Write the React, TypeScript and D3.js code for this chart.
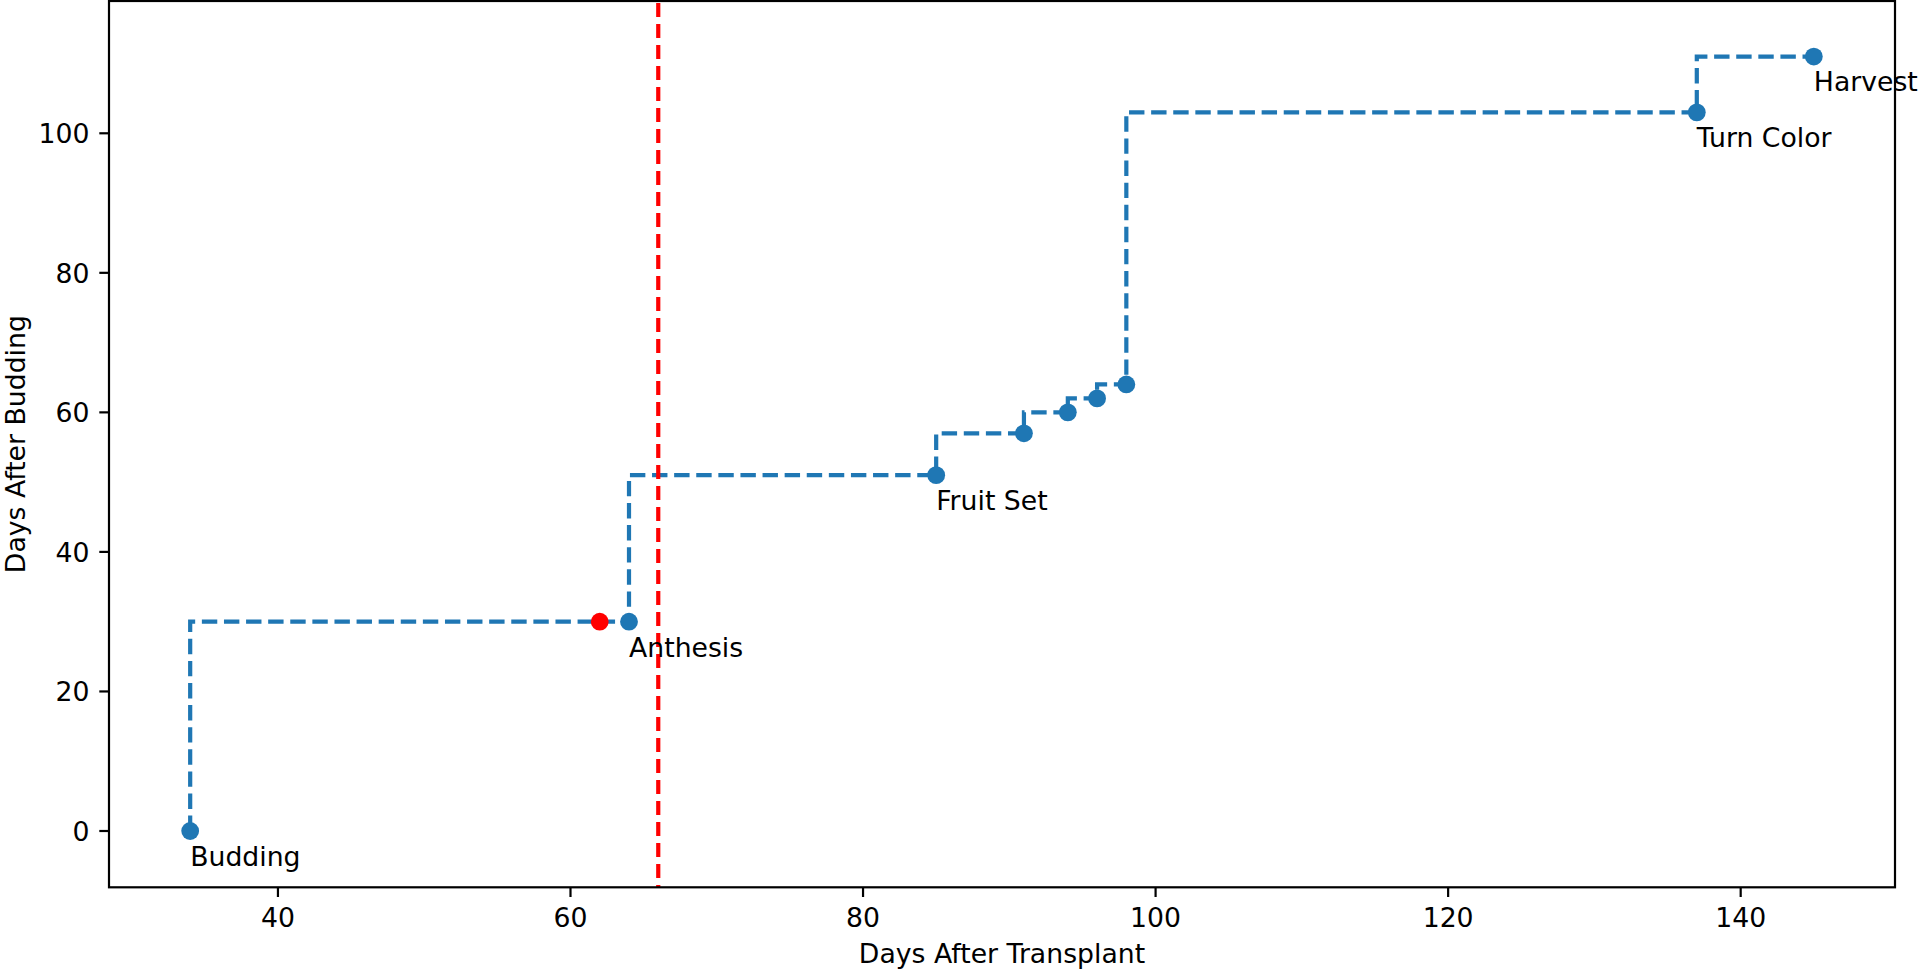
import React from "react";
import * as d3 from "d3";

const stageDays = [34, 64, 85, 91, 94, 96, 98, 137, 145];
const stageValues = [0, 30, 51, 57, 60, 62, 64, 103, 111];
const labelNames = ["Budding", "Anthesis", "Fruit Set", "Turn Color", "Harvest"];
const labelDays = [34, 64, 85, 137, 145];
const labelValues = [0, 30, 51, 103, 111];
const redPointDay = [62];
const redPointValue = [30];
const markerLineDay = 66;
const xTicks = [40, 60, 80, 100, 120, 140];
const yTicks = [0, 20, 40, 60, 80, 100];

const W = 1920;
const H = 969;
const L = 109, R = 1895, T = 1, B = 887.3;
const FONT = "DejaVu Sans";
const FS = 26.7;
const BLUE = "#1f77b4";

export default function App() {
  const x = d3.scaleLinear().domain([28.45, 150.55]).range([L, R]);
  const y = d3.scaleLinear().domain([-8.07, 118.96]).range([B, T]);
  const pts: [number, number][] = stageDays.map((d, i) => [d, stageValues[i]]);
  const line = d3
    .line<[number, number]>()
    .x((d) => x(d[0]))
    .y((d) => y(d[1]))
    .curve(d3.curveStepBefore);
  const lw = 4.2;
  return (
    <svg
      width={W}
      height={H}
      style={{ position: "absolute", left: 0, top: 0, background: "#fff" }}
      fontFamily={FONT}
    >
      <rect x={0} y={0} width={W} height={H} fill="#fff" />
      <path
        d={line(pts) || ""}
        fill="none"
        stroke={BLUE}
        strokeWidth={lw}
        strokeDasharray="15.4 6.7"
      />
      <line
        x1={x(markerLineDay)}
        x2={x(markerLineDay)}
        y1={T + 2}
        y2={B}
        stroke="#ff0000"
        strokeWidth={lw}
        strokeDasharray="14 7"
      />
      {pts.map((p, i) => (
        <circle key={i} cx={x(p[0])} cy={y(p[1])} r={8.9} fill={BLUE} />
      ))}
      {redPointDay.map((d, i) => (
        <circle key={"r" + i} cx={x(d)} cy={y(redPointValue[i])} r={8.9} fill="#ff0000" />
      ))}
      <rect x={L} y={T} width={R - L} height={B - T} fill="none" stroke="#000" strokeWidth={2.2} />
      {xTicks.map((t) => (
        <g key={"x" + t}>
          <line x1={x(t)} x2={x(t)} y1={B} y2={B + 9.7} stroke="#000" strokeWidth={2.2} />
          <text x={x(t)} y={926.5} textAnchor="middle" fontSize={FS} fill="#000">
            {t}
          </text>
        </g>
      ))}
      {yTicks.map((t) => (
        <g key={"y" + t}>
          <line x1={L - 9.7} x2={L} y1={y(t)} y2={y(t)} stroke="#000" strokeWidth={2.2} />
          <text x={89.5} y={y(t) + 10} textAnchor="end" fontSize={FS} fill="#000">
            {t}
          </text>
        </g>
      ))}
      {labelNames.map((n, i) => (
        <text key={n} x={x(labelDays[i])} y={y(labelValues[i] - 5)} fontSize={FS} fill="#000">
          {n}
        </text>
      ))}
      <text x={(L + R) / 2} y={963} textAnchor="middle" fontSize={FS} fill="#000">
        Days After Transplant
      </text>
      <text
        transform={`translate(25, ${(T + B) / 2}) rotate(-90)`}
        textAnchor="middle"
        fontSize={FS}
        fill="#000"
      >
        Days After Budding
      </text>
    </svg>
  );
}
